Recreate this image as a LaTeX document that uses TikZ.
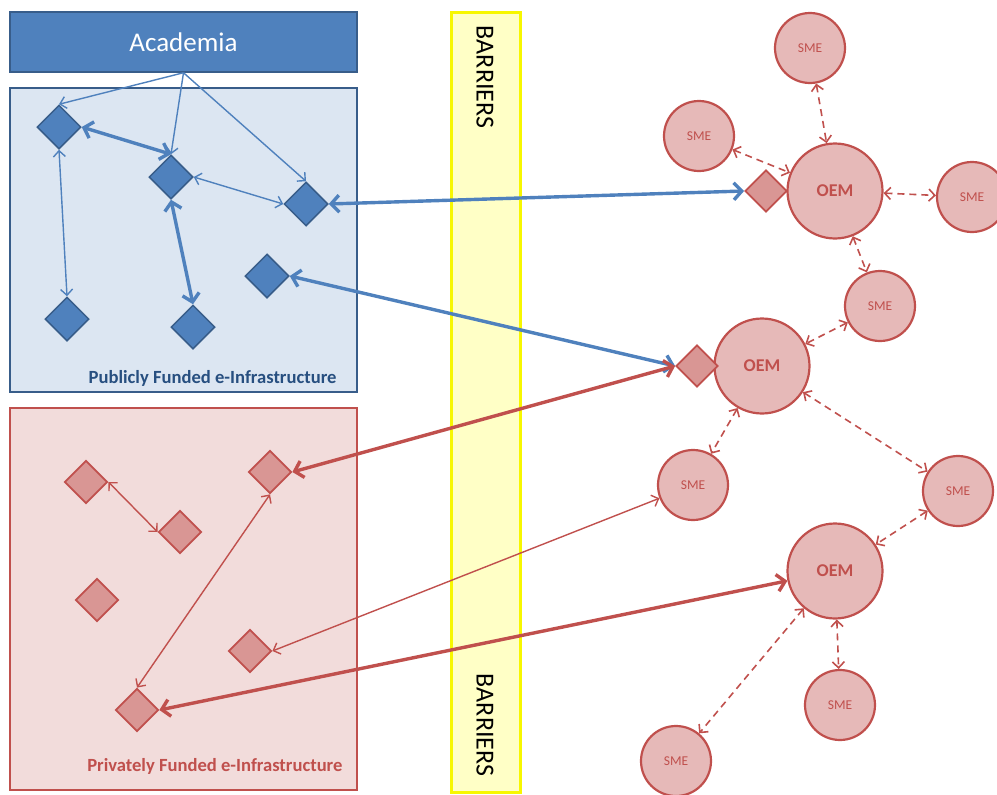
\documentclass[tikz,border=0pt]{standalone}
\usepackage{fontspec}
\setmainfont{Carlito}
\usepackage{tikz}
\usetikzlibrary{shapes.geometric, arrows.meta}
\definecolor{acblue}{HTML}{4F81BD}
\definecolor{acdark}{HTML}{385D8A}
\definecolor{pubfill}{HTML}{DCE6F2}
\definecolor{pubtext}{HTML}{274F80}
\definecolor{prired}{HTML}{C0504D}
\definecolor{prifill}{HTML}{F2DCDB}
\definecolor{oemfill}{HTML}{E6B9B8}
\definecolor{dmdfill}{HTML}{D99694}
\definecolor{barfill}{HTML}{FFFFC6}
\definecolor{barline}{HTML}{F7F700}

\begin{document}
\begin{tikzpicture}[x=1pt, y=-1pt,
  bdiam/.style={diamond, draw=acdark, fill=acblue, line width=1.5pt, minimum size=44pt, inner sep=0pt},
  rdiam/.style={diamond, draw=prired, fill=dmdfill, line width=1.8pt, minimum size=43pt, inner sep=0pt},
  oem/.style={circle, draw=prired, fill=oemfill, line width=2.2pt, minimum size=95pt, inner sep=0pt, text=prired, font=\bfseries\fontsize{18}{18}\selectfont},
  sme/.style={circle, draw=prired, fill=oemfill, line width=2.2pt, minimum size=70pt, inner sep=0pt, text=prired, font=\fontsize{13.5}{13.5}\selectfont},
  lnk/.style={line width=1.4pt, {Straight Barb[length=6pt,width=12pt]}-{Straight Barb[length=6pt,width=12pt]}},
  lnkthick/.style={line width=3.4pt, {Straight Barb[length=8pt,width=17pt]}-{Straight Barb[length=8pt,width=17pt]}},
  lnkdash/.style={lnk, line width=1.6pt, dash pattern=on 7pt off 5pt},
  feed/.style={acblue, line width=1.4pt, -{Straight Barb[length=6pt,width=12pt]}},
  barlbl/.style={rotate=-90, font=\fontsize{26}{26}\selectfont}]
\useasboundingbox (0,0) rectangle (997,795);

\node[draw=acdark, fill=acblue, line width=1.5pt, minimum width=347pt, minimum height=60pt, text=white, font=\fontsize{27}{27}\selectfont] (acad) at (183.5,42) {Academia};
\node[draw=acdark, fill=pubfill, line width=2pt, minimum width=347pt, minimum height=304pt] (pub) at (183.5,240) {};
\node[draw=prired, fill=prifill, line width=2pt, minimum width=347pt, minimum height=382pt] (pri) at (183.5,599) {};
\node[anchor=east, text=pubtext, font=\bfseries\fontsize{18.6}{18.6}\selectfont] (publbl) at (340,378) {Publicly Funded e-Infrastructure};
\node[anchor=east, text=prired, font=\bfseries\fontsize{18.6}{18.6}\selectfont] (prilbl) at (346,766) {Privately Funded e-Infrastructure};

\node[draw=barline, fill=barfill, line width=3pt, minimum width=69pt, minimum height=780pt] (bar) at (485.5,402) {};
\node[barlbl] (bartop) at (485,77) {BARRIERS};
\node[barlbl] (barbot) at (485,725) {BARRIERS};

\node[bdiam] (d1) at (59,127) {};
\node[bdiam] (d2) at (171,177) {};
\node[bdiam] (d3) at (306,204) {};
\node[bdiam] (d4) at (267,276) {};
\node[bdiam] (d5) at (67,319) {};
\node[bdiam] (d6) at (193,327) {};

\node[rdiam] (p1) at (86,482) {};
\node[rdiam] (p2) at (180,532) {};
\node[rdiam] (p3) at (97,600) {};
\node[rdiam] (p4) at (270,472) {};
\node[rdiam] (p5) at (250,651) {};
\node[rdiam] (p6) at (137,710) {};

\node[oem] (oem1) at (835,191) {OEM};
\node[oem] (oem2) at (762,366) {OEM};
\node[oem] (oem3) at (835,571) {OEM};
\node[rdiam, minimum size=42pt] (g1) at (766,191) {};
\node[rdiam, minimum size=42pt] (g2) at (697,366) {};

\node[sme] (s1) at (810,48) {SME};
\node[sme] (s2) at (699,136) {SME};
\node[sme] (s3) at (972,197) {SME};
\node[sme] (s4) at (880,306) {SME};
\node[sme] (s5) at (693,485) {SME};
\node[sme] (s6) at (958,491) {SME};
\node[sme] (s7) at (840,705) {SME};
\node[sme] (s8) at (676,761) {SME};

\draw[feed] (acad.south) -- (d1.north);
\draw[feed] (acad.south) -- (d2.north);
\draw[feed] (acad.south) -- (d3.north);
\draw[lnkthick, acblue] (d1.east) -- (d2.north);
\draw[lnk, acblue] (d2.east) -- (d3.west);
\draw[lnk, acblue] (d1.south) -- (d5.north);
\draw[lnkthick, acblue] (d2.south) -- (d6.north);
\draw[lnkthick, acblue] (d3.east) -- (g1.west);
\draw[lnkthick, acblue] (d4.east) -- (g2.west);

\draw[lnk, prired] (p1.east) -- (p2.west);
\draw[lnk, prired] (p4.south) -- (p6.north);
\draw[lnk, prired] (p5.east) -- (s5);
\draw[lnkthick, prired] (p4.east) -- (g2.west);
\draw[lnkthick, prired] (p6.east) -- (oem3);

\draw[lnkdash, prired] (s1) -- (oem1);
\draw[lnkdash, prired] (s2) -- (oem1);
\draw[lnkdash, prired] (oem1) -- (s3);
\draw[lnkdash, prired] (oem1) -- (s4);
\draw[lnkdash, prired] (s4) -- (oem2);
\draw[lnkdash, prired] (oem2) -- (s5);
\draw[lnkdash, prired] (oem2) -- (s6);
\draw[lnkdash, prired] (s6) -- (oem3);
\draw[lnkdash, prired] (oem3) -- (s7);
\draw[lnkdash, prired] (oem3) -- (s8);
\end{tikzpicture}
\end{document}
